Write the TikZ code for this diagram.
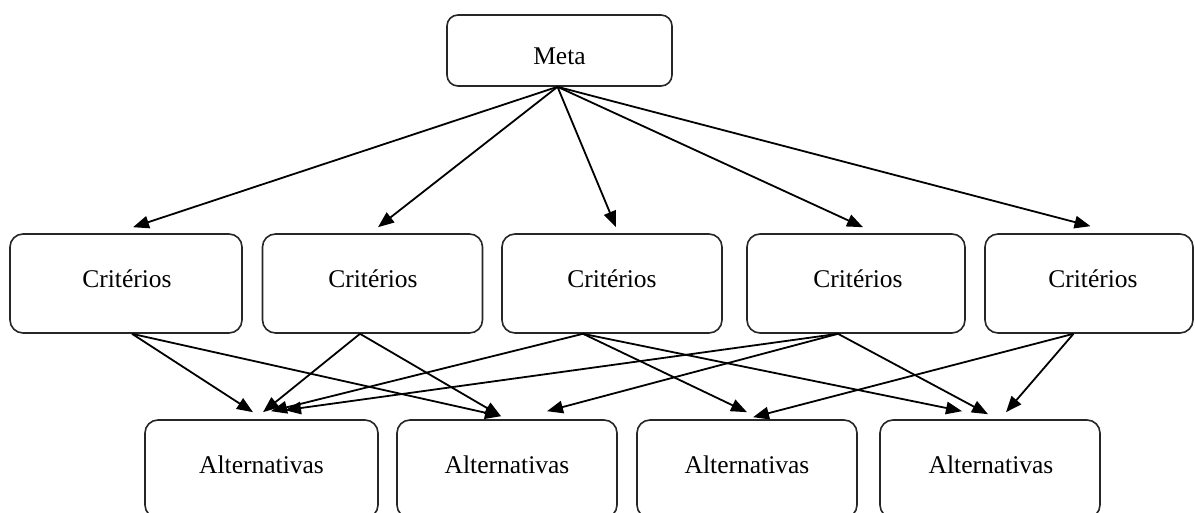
\documentclass[tikz,border=0pt]{standalone}
\usepackage{fontspec}
\setmainfont{Liberation Serif}
\usetikzlibrary{arrows.meta,calc}
\begin{document}
\begin{tikzpicture}[x=1pt,y=-1pt]
\tikzset{
  box/.style={draw=black!85, line width=1.6pt, rounded corners=13pt, inner sep=0pt, minimum height=99pt},
  lbl/.style={anchor=base, font=\fontsize{25.5}{30}\selectfont, inner sep=0pt},
  arr/.style={-{Triangle[length=16pt,width=12.5pt]}, line width=1.8pt, black},
}
\useasboundingbox (0,0) rectangle (1195,513);
\clip (0,0) rectangle (1195,513);
\fill[white] (0,0) rectangle (1195,513);
% boxes
\node[box, minimum width=225pt, minimum height=71pt, rounded corners=11pt] (meta) at (559.5,50.5) {};
\node[box, minimum width=232pt] (c1) at (126,283.5) {};
\node[box, minimum width=220pt] (c2) at (372.5,283.5) {};
\node[box, minimum width=220pt] (c3) at (612,283.5) {};
\node[box, minimum width=218pt] (c4) at (856,283.5) {};
\node[box, minimum width=208pt] (c5) at (1089,283.5) {};
\node[box, minimum width=233pt, minimum height=98pt] (a1) at (261.5,469) {};
\node[box, minimum width=220pt, minimum height=98pt] (a2) at (507,469) {};
\node[box, minimum width=220pt, minimum height=98pt] (a3) at (747,469) {};
\node[box, minimum width=220pt, minimum height=98pt] (a4) at (990,469) {};
% labels
\node[lbl] (tmeta) at (559.5,65) {Meta};
\node[lbl] (tc1) at (127,288) {Critérios};
\node[lbl] (tc2) at (373,288) {Critérios};
\node[lbl] (tc3) at (612,288) {Critérios};
\node[lbl] (tc4) at (858,288) {Critérios};
\node[lbl] (tc5) at (1093,288) {Critérios};
\node[lbl] (ta1) at (261.5,473) {Alternativas};
\node[lbl] (ta2) at (507,473) {Alternativas};
\node[lbl] (ta3) at (747,473) {Alternativas};
\node[lbl] (ta4) at (991,473) {Alternativas};
% meta to criteria
\draw[arr] ([xshift=-2pt]meta.south) -- ($(c1.north)+(7,-6)$);
\draw[arr] ([xshift=-2pt]meta.south) -- ($(c2.north)+(5.5,-6)$);
\draw[arr] ([xshift=-2pt]meta.south) -- ($(c3.north)+(4,-6)$);
\draw[arr] ([xshift=-2pt]meta.south) -- ($(c4.north)+(7,-6)$);
\draw[arr] ([xshift=-2pt]meta.south) -- ($(c5.north)+(1.5,-7)$);
% criteria to alternatives
\draw[arr] ($(c1.south)+(6,0)$) -- ($(a1.north)+(-8.5,-7)$);
\draw[arr] ($(c1.south)+(6,0)$) -- ($(a2.north)+(-6,-3)$);
\draw[arr] ($(c2.south)+(-12.5,0)$) -- ($(a1.north)+(1.5,-7)$);
\draw[arr] ($(c2.south)+(-12.5,0)$) -- ($(a2.north)+(-6,-3)$);
\draw[arr] ($(c3.south)+(-29,0)$) -- ($(a1.north)+(9.5,-8)$);
\draw[arr] ($(c3.south)+(-29,0)$) -- ($(a3.north)+(0,-7)$);
\draw[arr] ($(c3.south)+(-29,0)$) -- ($(a4.north)+(-28,-8)$);
\draw[arr] ($(c4.south)+(-18,0)$) -- ($(a1.north)+(23.5,-9)$);
\draw[arr] ($(c4.south)+(-18,0)$) -- ($(a2.north)+(40,-8)$);
\draw[arr] ($(c4.south)+(-18,0)$) -- ($(a4.north)+(-2,-5)$);
\draw[arr] ($(c5.south)+(-15.5,0)$) -- ($(a3.north)+(6,-2)$);
\draw[arr] ($(c5.south)+(-15.5,0)$) -- ($(a4.north)+(16,-7)$);
\end{tikzpicture}
\end{document}
